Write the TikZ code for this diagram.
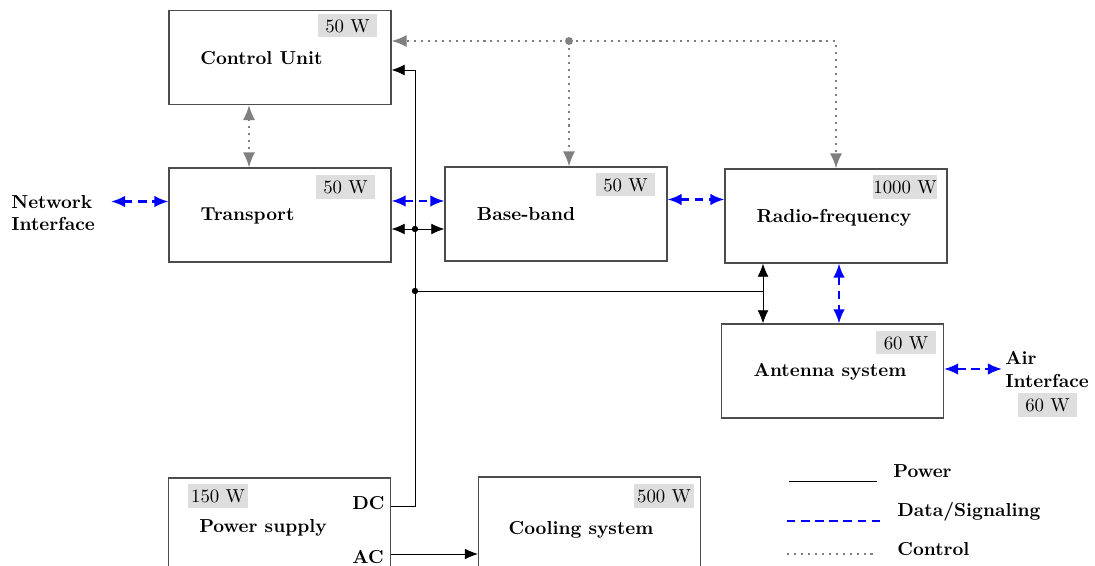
\documentclass[tikz,border=0pt]{standalone}
\usetikzlibrary{arrows.meta}
\begin{document}
\begin{tikzpicture}[x=0.5319pt,y=-0.5319pt,
  box/.style={draw=black!70,line width=0.6pt,minimum width=118.1pt,minimum height=50pt,inner sep=0pt},
  lbl/.style={font=\bfseries,inner sep=0pt},
  watt/.style={fill=black!13,minimum width=31.8pt,inner xsep=0pt,inner ysep=0pt,minimum height=12.5pt,text height=7pt,text depth=0pt},
  pw/.style={line width=0.5pt,black,>={Latex[length=7pt,width=5.8pt]}},
  dat/.style={blue,line width=1.2pt,dash pattern=on 4.5pt off 3pt,>={Latex[length=7.5pt,width=6.2pt]}},
  ctl/.style={gray,line width=1.1pt,dash pattern=on 1.1pt off 2.6pt,>={Latex[length=8pt,width=6.5pt]}},
  dot/.style={circle,fill,inner sep=0pt,minimum size=3.4pt}
]
\useasboundingbox (0,0) rectangle (1095,566);
\clip (0,0) rectangle (1095,566);

% boxes
\node[box] (cu) at (280,57.5) {};
\node[box] (tr) at (280,215) {};
\node[box] (bb) at (556,214) {};
\node[box] (rf) at (836,216) {};
\node[box] (an) at (832.5,371) {};
\node[box] (ps) at (279.5,525) {};
\node[box] (co) at (589.5,524) {};

% labels
\node[lbl] (cut) at (261.5,58) {Control Unit};
\node[lbl] (trt) at (247.5,216) {Transport};
\node[lbl] (bbt) at (526,214) {Base-band};
\node[lbl] (rft) at (834,218) {Radio-frequency};
\node[lbl] (ant) at (830,372) {Antenna system};
\node[lbl] (pst) at (263,528) {Power supply};
\node[lbl] (cot) at (581,530) {Cooling system};
\node[lbl] (dc) at (368.5,503) {DC};
\node[lbl] (ac) at (368,557) {AC};
\node[lbl,align=left,anchor=west] (ni) at (11,213) {Network\\Interface};
\node[lbl,align=left,anchor=west] (ai) at (1005,369.5) {Air\\Interface};

% wattages
\node[watt] (cuw) at (347.5,25.5) {50 W};
\node[watt] (trw) at (345.5,187) {50 W};
\node[watt] (bbw) at (625.5,184.5) {50 W};
\node[watt] (rfw) at (905,187) {1000 W};
\node[watt] (anw) at (906,342.5) {60 W};
\node[watt] (aiw) at (1047.5,405) {60 W};
\node[watt] (psw) at (218,496) {150 W};
\node[watt] (cow) at (664,496) {500 W};

% control connectors
\coordinate (jc) at (569,41);
\coordinate (cx) at (249,0);
\draw[ctl,->] (jc) -- (jc -| cu.east);
\draw[ctl,->] (jc) -- (jc |- bb.north);
\draw[ctl,->] (jc) -| (rf.north);
\draw[ctl,<->] (cu.south -| cx) -- (tr.north -| cx);
\node[dot,gray,minimum size=4.2pt] (jcd) at (jc) {};

% power connectors
\coordinate (dcp) at (390,506);
\coordinate (bus) at (415,0);
\coordinate (cup) at (0,70);
\coordinate (j1) at (415,229);
\coordinate (j2) at (415,291);
\coordinate (j3) at (763,291);
\coordinate (acp) at (0,554);
\draw[pw,->] (ps.east |- dcp) -| (bus |- cup) -- (cu.east |- cup);
\draw[pw,<->] (tr.east |- j1) -- (bb.west |- j1);
\draw[pw] (j2) -- (j3);
\draw[pw,->] (j3) -- (j3 |- rf.south);
\draw[pw,->] (j3) -- (j3 |- an.north);
\draw[pw,->] (ps.east |- acp) -- (co.west |- acp);
\node[dot] (j1d) at (j1) {};
\node[dot] (j2d) at (j2) {};

% data connectors
\coordinate (n1) at (111,201.5);
\coordinate (d1) at (0,201);
\coordinate (d2) at (0,199.5);
\coordinate (d3) at (839,0);
\coordinate (a1) at (1002,369);
\draw[dat,<->] (n1) -- (tr.west |- n1);
\draw[dat,<->] (tr.east |- d1) -- (bb.west |- d1);
\draw[dat,<->] (bb.east |- d2) -- (rf.west |- d2);
\draw[dat,<->] (rf.south -| d3) -- (an.north -| d3);
\draw[dat,<->] (an.east |- a1) -- (a1);

% legend
\coordinate (lp1) at (789,481.5);
\coordinate (lp2) at (877,481.5);
\coordinate (ld1) at (787,521);
\coordinate (ld2) at (880,521);
\coordinate (lc1) at (787,554);
\coordinate (lc2) at (875,554);
\draw[pw,line width=0.6pt] (lp1) -- (lp2);
\draw[dat] (ld1) -- (ld2);
\draw[ctl,line width=0.8pt] (lc1) -- (lc2);
\node[lbl,anchor=west] (lpt) at (893,471) {Power};
\node[lbl,anchor=west] (ldt) at (897,512) {Data/Signaling};
\node[lbl,anchor=west] (lct) at (897,549) {Control};
\end{tikzpicture}
\end{document}
